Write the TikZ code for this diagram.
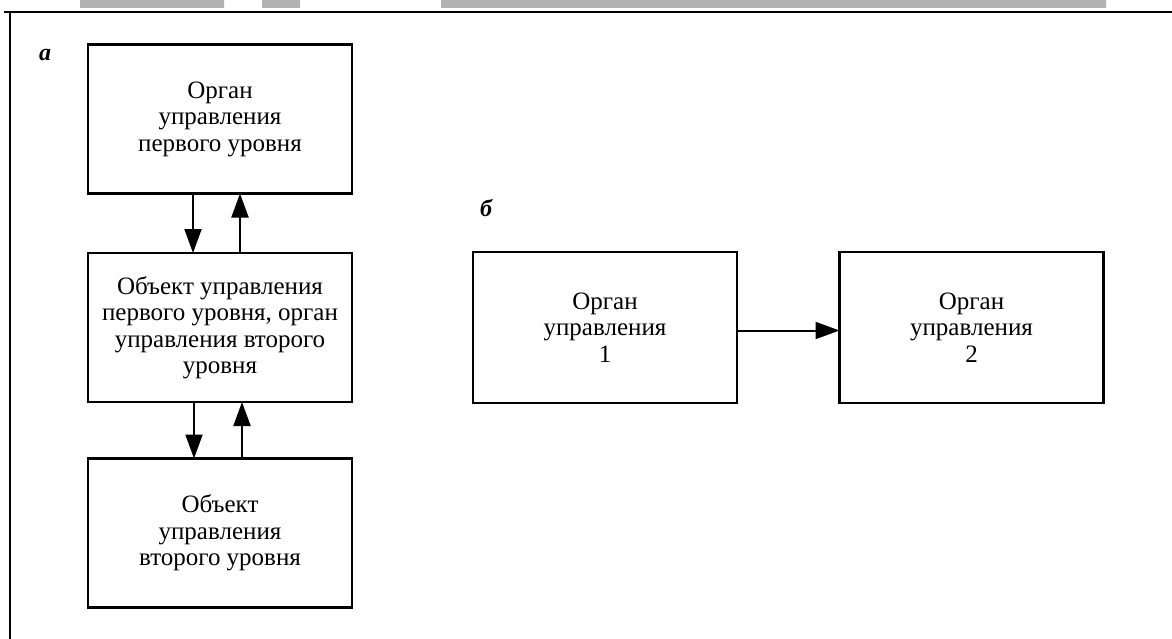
\documentclass[tikz,border=0pt]{standalone}
\usepackage{fontspec}
\setmainfont{Liberation Serif}
\usetikzlibrary{arrows.meta}
\begin{document}
\begin{tikzpicture}[x=1pt,y=-1pt,
  blk/.style={draw=black,line width=2.3pt,rectangle,outer sep=0pt,inner sep=0pt,
    minimum width=264pt,minimum height=149pt,align=center,
    font=\fontsize{25}{26.5}\selectfont},
  arr/.style={line width=2pt,-{Triangle[length=24pt,width=17pt]}},
  frame/.style={line width=2.2pt},
  band/.style={fill=black!30},
  lbl/.style={font=\fontsize{24}{26}\selectfont\bfseries\itshape,inner sep=0pt}]
\useasboundingbox (0,0) rectangle (1172,639);
\fill[band] (80,0) rectangle (224,8) (262,0) rectangle (300,8) (441,0) rectangle (1106,8);
\draw[frame] (4,12) -- (1172,12);
\draw[frame] (10,12) -- (10,639);
\node[lbl] (la) at (45,55) {а};
\node[lbl] (lb) at (486,208) {б};
\node[blk] (b1) at (220,119) {Орган\\управления\\первого уровня};
\node[blk] (b2) at (220,327.5) {Объект управления\\первого уровня, орган\\управления второго\\уровня};
\node[blk] (b3) at (220,533) {Объект\\управления\\второго уровня};
\node[blk,minimum height=151pt] (b4) at (605,327.5) {Орган\\управления\\1};
\node[blk,minimum height=151pt] (b5) at (971.5,327.5) {Орган\\управления\\2};
\draw[arr] ([xshift=-27pt]b1.south) -- ([xshift=-27pt]b2.north);
\draw[arr] ([xshift=20pt]b2.north) -- ([xshift=20pt]b1.south);
\draw[arr] ([xshift=-26pt]b2.south) -- ([xshift=-26pt]b3.north);
\draw[arr] ([xshift=22pt]b3.north) -- ([xshift=22pt]b2.south);
\draw[arr] ([yshift=-3pt]b4.east) -- ([yshift=-3pt]b5.west);
\end{tikzpicture}
\end{document}
